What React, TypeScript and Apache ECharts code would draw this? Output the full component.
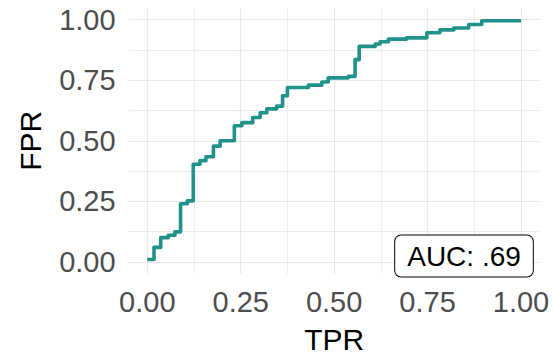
import React, { useEffect, useRef } from "react";
import * as echarts from "echarts";

// ROC curve points (step curve: horizontal run, then rise at each TPR)
const tpr = [
  0, 0.018, 0.036, 0.056, 0.074, 0.089, 0.107, 0.123, 0.141, 0.157, 0.177, 0.195,
  0.233, 0.253, 0.282, 0.302, 0.32, 0.346, 0.362, 0.375, 0.431, 0.467, 0.484,
  0.538, 0.556, 0.567, 0.61, 0.623, 0.645, 0.694, 0.748, 0.783, 0.82, 0.86,
  0.895, 1.0,
];
const fpr = [
  0.01, 0.06, 0.1, 0.11, 0.124, 0.24, 0.252, 0.403, 0.418, 0.434, 0.478, 0.5,
  0.562, 0.575, 0.596, 0.616, 0.632, 0.643, 0.686, 0.72, 0.73, 0.743, 0.76,
  0.766, 0.835, 0.89, 0.9, 0.909, 0.92, 0.925, 0.946, 0.958, 0.966, 0.98,
  0.996, 0.996,
];

const majorTicks = [0, 0.25, 0.5, 0.75, 1];
const minorTicks = [0.125, 0.375, 0.625, 0.875];
const aucText = "AUC: .69";

const FONT = "'Liberation Sans', Arial, sans-serif";
const GRID_MAJOR = "#E8E8E8";
const GRID_MINOR = "#EBEBEB";

function makeAxis(kind: "x" | "y", main: boolean) {
  const base: any = {
    type: "value",
    min: -0.05,
    max: 1.05,
    gridIndex: 0,
    axisLine: { show: false },
    axisTick: { show: false, customValues: main ? majorTicks : minorTicks },
    splitLine: {
      show: true,
      lineStyle: { color: main ? GRID_MAJOR : GRID_MINOR, width: main ? 1.1 : 0.9 },
    },
  };
  if (main) {
    base.axisLabel = {
      show: true,
      customValues: majorTicks,
      formatter: (v: number) => v.toFixed(2),
      color: "#4D4D4D",
      fontFamily: FONT,
      fontSize: 29,
      margin: kind === "x" ? 13 : 13,
    };
    base.name = kind === "x" ? "TPR" : "FPR";
    base.nameLocation = "middle";
    base.nameGap = kind === "x" ? 50 : 83;
    base.nameTextStyle = { color: "#000000", fontFamily: FONT, fontSize: 30 };
  } else {
    base.axisLabel = { show: false };
  }
  return base;
}

export default function App() {
  const ref = useRef<HTMLDivElement>(null);

  useEffect(() => {
    if (!ref.current) return;
    const chart = echarts.init(ref.current, undefined, { renderer: "svg" });
    const points = tpr.map((x, i) => [x, fpr[i]]);
    chart.setOption({
      animation: false,
      backgroundColor: "#FFFFFF",
      grid: { left: 128.6, right: 14.3, top: 7.6, bottom: 79.3, containLabel: false },
      xAxis: [makeAxis("x", true), makeAxis("x", false)],
      yAxis: [makeAxis("y", true), makeAxis("y", false)],
      series: [
        {
          type: "line",
          xAxisIndex: 0,
          yAxisIndex: 0,
          data: points,
          step: "end",
          showSymbol: false,
          symbol: "none",
          lineStyle: { color: "#21928A", width: 3.6, join: "round" },
        },
      ],
      graphic: [
        {
          type: "text",
          x: 464,
          y: 256,
          z: 10,
          style: {
            text: aucText,
            align: "center",
            verticalAlign: "middle",
            fontFamily: FONT,
            fontSize: 28,
            lineHeight: 28,
            fill: "#000000",
            backgroundColor: "#FFFFFF",
            borderColor: "#000000",
            borderWidth: 1,
            borderRadius: 6,
            padding: [6, 12, 7, 12],
          },
        },
      ],
    });
    return () => chart.dispose();
  }, []);

  return <div ref={ref} style={{ width: 554, height: 359, position: "absolute", left: 0, top: 0 }} />;
}
